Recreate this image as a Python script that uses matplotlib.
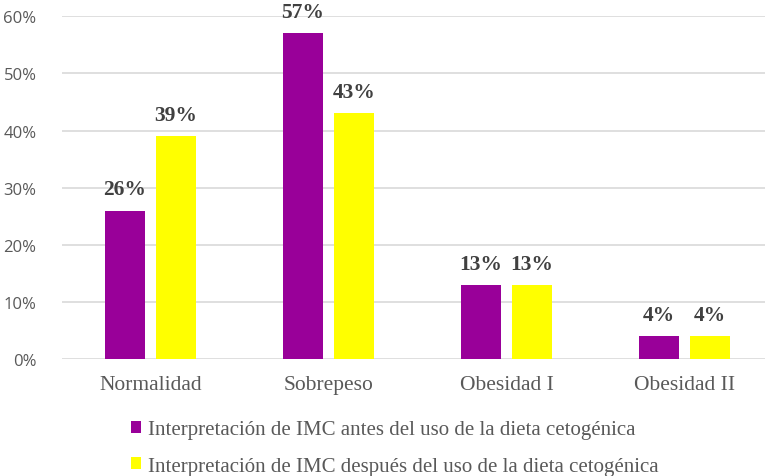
import matplotlib
matplotlib.use("Agg")
import matplotlib.pyplot as plt
import numpy as np
from matplotlib.patches import Patch

categories = ["Normalidad", "Sobrepeso", "Obesidad I", "Obesidad II"]
antes = [0.26, 0.57, 0.13, 0.04]
despues = [0.39, 0.43, 0.13, 0.04]
series_names = ["Interpretación de IMC antes del uso de la dieta cetogénica",
                "Interpretación de IMC después del uso de la dieta cetogénica"]
yticks = [0, 0.1, 0.2, 0.3, 0.4, 0.5, 0.6]
ytick_labels = ["0%", "10%", "20%", "30%", "40%", "50%", "60%"]

c_purple = "#990099"
c_yellow = "#FFFF00"

W, H = 765, 477
fig = plt.figure(figsize=(W/100, H/100), dpi=100)
ax = fig.add_axes([61.5/W, 1-360.3/H, 712/W, 343/H])

x = np.arange(len(categories))
bw = 0.225
off = 0.143
ax.bar(x - off, antes, bw, color=c_purple, zorder=3)
ax.bar(x + off, despues, bw, color=c_yellow, zorder=3)

serif = ["Liberation Serif", "DejaVu Serif"]
for xi, v in zip(x - off, antes):
    ax.text(xi, v + 0.02, f"{round(v*100)}%", ha="center", va="bottom",
            family=serif, fontweight="bold", fontsize=15.5, color="#404040", clip_on=False)
for xi, v in zip(x + off, despues):
    ax.text(xi, v + 0.02, f"{round(v*100)}%", ha="center", va="bottom",
            family=serif, fontweight="bold", fontsize=15.5, color="#404040", clip_on=False)

ax.set_xlim(-0.5, 3.5)
ax.set_ylim(0, 0.6)
ax.set_yticks(yticks)
ax.set_yticklabels(ytick_labels, family=["Open Sans", "DejaVu Sans"], fontsize=12, color="#595959")
ax.set_xticks(x)
ax.set_xticklabels(categories, family=serif, fontsize=15.5, color="#595959")
ax.tick_params(axis="both", length=0)
ax.tick_params(axis="y", pad=18)
ax.tick_params(axis="x", pad=11)
ax.yaxis.grid(True, color="#D9D9D9", linewidth=1.2, zorder=0)
for s in ax.spines.values():
    s.set_visible(False)

handles = [Patch(facecolor=c_purple), Patch(facecolor=c_yellow)]
fig.legend(handles, series_names, loc="upper left", bbox_to_anchor=(131/W, 1-421/H),
           frameon=False, prop={"family": serif, "size": 15}, labelcolor="#595959",
           handlelength=0.5, handleheight=0.5, handletextpad=0.3, labelspacing=0.85,
           borderaxespad=0, borderpad=0)

fig.savefig("out.png", dpi=100)
